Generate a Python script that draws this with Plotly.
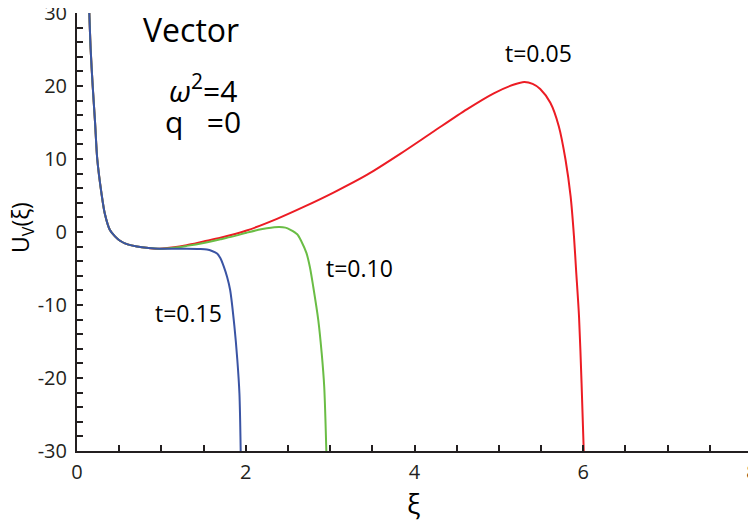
import plotly.graph_objects as go

# shared steep left branch (all three curves coincide here)
x_left = [0.146, 0.162, 0.186, 0.214, 0.24, 0.29, 0.33, 0.39, 0.45, 0.51, 0.60, 0.71, 0.85, 0.98]
y_left = [30, 25, 20, 15, 10, 5.3, 2.5, 0.27, -0.6, -1.2, -1.7, -2.0, -2.2, -2.3]

# t = 0.15 (blue)
x_t15 = x_left + [1.15, 1.30, 1.45, 1.54, 1.60, 1.66, 1.70, 1.74, 1.78, 1.815, 1.866, 1.90, 1.925, 1.94]
y_t15 = y_left + [-2.3, -2.3, -2.33, -2.4, -2.6, -2.95, -3.6, -4.75, -6.2, -7.95, -12.97, -17.5, -22.1, -30]

# t = 0.10 (green)
x_t10 = x_left + [1.15, 1.30, 1.50, 1.70, 1.85, 2.01, 2.15, 2.25, 2.39, 2.47, 2.53, 2.61, 2.66, 2.72,
                  2.76, 2.80, 2.86, 2.90, 2.93, 2.955]
y_t10 = y_left + [-2.15, -1.9, -1.5, -1.0, -0.6, -0.1, 0.3, 0.5, 0.68, 0.6, 0.3, -0.3, -1.3, -2.9,
                  -4.8, -7.5, -12.1, -16.6, -21.2, -30]

# t = 0.05 (red)
x_t05 = x_left + [1.15, 1.30, 1.50, 1.70, 2.01, 2.37, 2.68, 3.04, 3.44, 3.83, 4.23, 4.62, 4.94,
                  5.18, 5.30, 5.40, 5.49, 5.61, 5.71, 5.79, 5.85, 5.89, 5.915, 5.95, 5.98, 6.006]
y_t05 = y_left + [-2.1, -1.8, -1.3, -0.8, 0.2, 1.8, 3.4, 5.4, 7.85, 10.7, 13.8, 16.8, 19.0,
                  20.2, 20.55, 20.3, 19.6, 17.7, 14.5, 9.9, 4.9, -0.6, -5.2, -11.6, -20.7, -30]

y_ticks = [-30, -20, -10, 0, 10, 20, 30]
y_ticktext = ["-30", "-20", "-10", "0", "10", "20", "30"]
x_ticks = [0, 2, 4, 6, 8]

font = "Open Sans, Noto Sans, sans-serif"
ink = "#231f20"

# page body has an 8px margin, so the figure is drawn 8px in and down
OFF = 8
W, H = 748, 514
X0, X1, Y0, Y1 = 77, 752, 13, 451          # plot area in picture pixels
L, T = X0 - OFF, Y0 - OFF
R, B = OFF + W - X1, OFF + H - Y1
pw, ph = X1 - X0, Y1 - Y0

fig = go.Figure()
fig.add_trace(go.Scatter(x=x_t05, y=y_t05, mode="lines", name="t=0.05",
                         line=dict(color="#ec1c24", width=2, shape="spline", smoothing=0.8)))
fig.add_trace(go.Scatter(x=x_t10, y=y_t10, mode="lines", name="t=0.10",
                         line=dict(color="#6abd45", width=2, shape="spline", smoothing=0.8)))
fig.add_trace(go.Scatter(x=x_t15, y=y_t15, mode="lines", name="t=0.15",
                         line=dict(color="#3a54a4", width=2, shape="spline", smoothing=0.8)))

# texts placed by pixel position in the picture
notes = [
    (191, 29, "Vector", 32, 0),
    (203, 89, "<i>ω</i><sup>2</sup>=4", 30, 0),
    (203, 122, "q&nbsp;&nbsp;&nbsp;=0", 30, 0),
    (538, 53, "t=0.05", 23, 0),
    (359, 268, "t=0.10", 23, 0),
    (188, 313, "t=0.15", 23, 0),
    (21, 228, "U<sub>V</sub>(ξ)", 23, -90),
    (413, 503, "ξ", 28, 0),
]
for px, py, txt, size, ang in notes:
    fig.add_annotation(x=(px - X0) / pw, y=1 - (py - Y0) / ph, xref="paper", yref="paper",
                       xanchor="center", yanchor="middle", text=txt, showarrow=False,
                       textangle=ang, font=dict(family=font, size=size, color="black"))

fig.update_layout(
    width=W, height=H,
    margin=dict(l=L, r=R, t=T, b=B, autoexpand=False),
    plot_bgcolor="white", paper_bgcolor="white",
    showlegend=False,
    font=dict(family=font, size=20, color=ink),
    xaxis=dict(range=[0, 8], tickvals=x_ticks, ticks="inside", ticklen=6, tickwidth=1.5,
               tickcolor=ink, showline=True, linecolor=ink, linewidth=2, showgrid=False,
               zeroline=False, automargin=False, ticklabeloverflow="allow",
               minor=dict(dtick=0.5, ticks="inside", ticklen=6, tickwidth=1.5, tickcolor=ink),
               ticklabelstandoff=2),
    yaxis=dict(range=[-30, 30], tickvals=y_ticks, ticktext=y_ticktext, ticks="inside", ticklen=6,
               tickwidth=1.5, tickcolor=ink, showline=True, linecolor=ink, linewidth=2,
               showgrid=False, zeroline=False, automargin=False, ticklabeloverflow="allow",
               minor=dict(dtick=2, ticks="inside", ticklen=6, tickwidth=1.5, tickcolor=ink),
               ticklabelstandoff=4),
)

fig.write_html("out.html")
